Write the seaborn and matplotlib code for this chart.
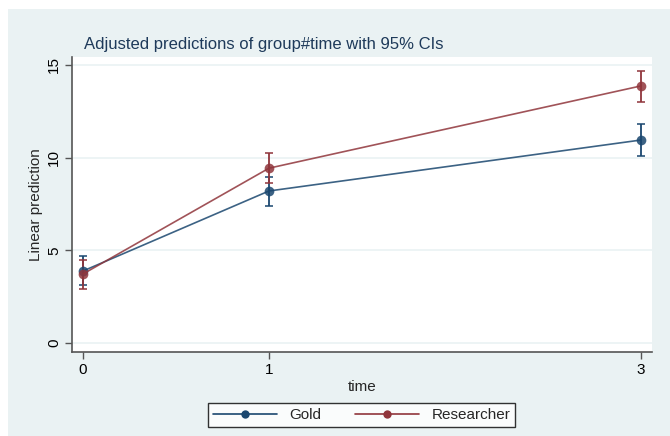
import numpy as np
import pandas as pd
import seaborn as sns
import matplotlib.pyplot as plt
from matplotlib.patches import Rectangle

time = [0, 1, 3]
gold = [3.88, 8.20, 10.95]
gold_lo = [3.13, 7.41, 10.08]
gold_hi = [4.70, 8.97, 11.82]
res = [3.72, 9.43, 13.87]
res_lo = [2.91, 8.65, 13.00]
res_hi = [4.48, 10.24, 14.68]

groups = ["Gold", "Researcher"]
colors = {"Gold": "#1a476f", "Researcher": "#90353b"}

df = pd.DataFrame({
    "time": time * 2,
    "pred": gold + res,
    "lo": gold_lo + res_lo,
    "hi": gold_hi + res_hi,
    "group": ["Gold"] * 3 + ["Researcher"] * 3,
})

sns.set_theme(style="white")
plt.rcParams["font.family"] = ["Liberation Sans", "DejaVu Sans"]

fig = plt.figure(figsize=(6.7, 4.36), dpi=100)
fig.patch.set_facecolor("white")
# stata style light blue background (image is cropped a bit at top/left)
fig.patches.append(Rectangle((8 / 670, 0), 1, 1 - 9 / 436, transform=fig.transFigure,
                             facecolor="#eaf2f3", edgecolor="none", zorder=-10))

ax = fig.add_axes([72 / 670, 1 - 352 / 436, 580 / 670, 295 / 436])
ax.set_facecolor("white")

for g in groups:
    d = df[df["group"] == g]
    ax.errorbar(d["time"], d["pred"], yerr=[d["pred"] - d["lo"], d["hi"] - d["pred"]],
                fmt="none", ecolor=colors[g], elinewidth=1.3, capsize=3, capthick=1.3, zorder=3)

sns.lineplot(data=df, x="time", y="pred", hue="group", palette=colors, marker="o",
             markersize=7, markeredgewidth=0, linewidth=1.2, ax=ax, legend=False, zorder=4)
for ln in ax.lines:
    ln.set_alpha(0.85)

ax.set_xlim(-0.059, 3.059)
ax.set_ylim(-0.49, 15.43)
ax.set_xticks(time)
ax.set_yticks([0, 5, 10, 15])
ax.set_yticklabels(["0", "5", "10", "15"], rotation=90, va="center")
ax.tick_params(axis="both", direction="out", length=5, width=1, color="#555555",
               labelsize=11, labelcolor="black", left=True, bottom=True, pad=3)
for y in [0, 5, 10, 15]:
    ax.axhline(y, color="#eaf2f3", linewidth=1.2, zorder=1)

for s in ["top", "right"]:
    ax.spines[s].set_visible(False)
for s in ["left", "bottom"]:
    ax.spines[s].set_color("#555555")
    ax.spines[s].set_linewidth(1.2)

ax.set_xlabel("time", fontsize=11, labelpad=2)
ax.set_ylabel("Linear prediction", fontsize=11, labelpad=3)

fig.text(263.5 / 670, 1 - 45 / 436, "Adjusted predictions of group#time with 95% CIs",
         ha="center", va="center", fontsize=12, color="#1e3a5a")

handles = [plt.Line2D([], [], color=colors[g], marker="o", markersize=6, linewidth=1.2,
                      markeredgewidth=0) for g in groups]
leg = fig.legend(handles, groups, loc="center", bbox_to_anchor=(361.5 / 670, 1 - 415 / 436),
                 ncol=2, frameon=True, fontsize=11, handlelength=4.2, columnspacing=2.2,
                 fancybox=False, borderpad=0.35)
leg.get_frame().set_edgecolor("black")
leg.get_frame().set_linewidth(1.0)
leg.get_frame().set_facecolor("white")

fig.savefig("out.png", dpi=100, facecolor=fig.get_facecolor())
